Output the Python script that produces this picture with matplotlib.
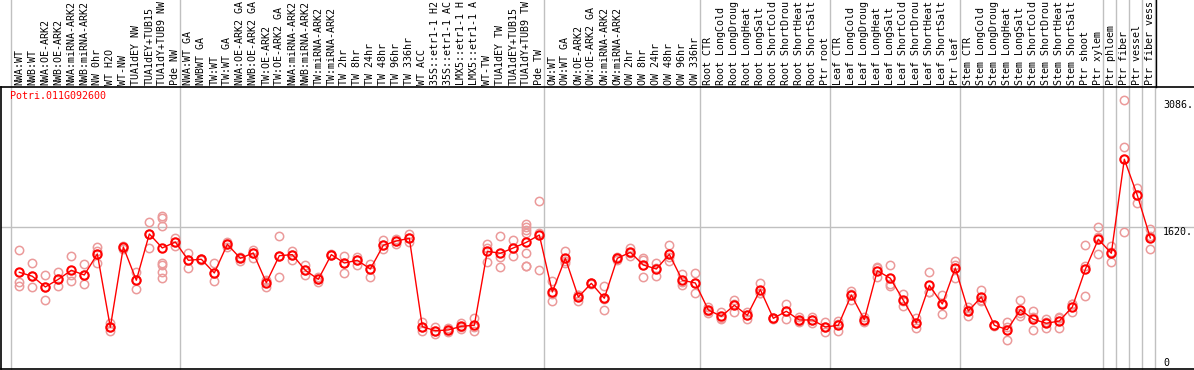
import matplotlib
matplotlib.use("Agg")
from matplotlib import pyplot as plt

plt.rcParams['font.family'] = ['DejaVu Sans Mono']

gene = "Potri.011G092600"

samples = ["NWA:WT", "NWB:WT", "NWA:OE-ARK2", "NWB:OE-ARK2", "NWA:miRNA-ARK2", "NWB:miRNA-ARK2",
           "NW 0hr", "WT H2O", "WT-NW", "TUA1dEY NW", "TUA1dEY+TUB15", "TUA1dY+TUB9 NW", "Pde NW",
           "NWA:WT GA", "NWBWT GA", "TW:WT", "TW:WT GA", "NWA:OE-ARK2 GA", "NWB:OE-ARK2 GA",
           "TW:OE-ARK2", "TW:OE-ARK2 GA", "NWA:miRNA-ARK2", "NWB:miRNA-ARK2", "TW:miRNA-ARK2",
           "TW:miRNA-ARK2", "TW 2hr", "TW 8hr", "TW 24hr", "TW 48hr", "TW 96hr", "TW 336hr",
           "WT ACC", "35S::etr1-1 H2", "35S::etr1-1 AC", "LMX5::etr1-1 H", "LMX5::etr1-1 A",
           "WT-TW", "TUA1dEY TW", "TUA1dEY+TUB15", "TUA1dY+TUB9 TW", "Pde TW",
           "OW:WT", "OW:WT GA", "OW:OE-ARK2", "OW:OE-ARK2 GA", "OW:miRNA-ARK2", "OW:miRNA-ARK2",
           "OW 2hr", "OW 8hr", "OW 24hr", "OW 48hr", "OW 96hr", "OW 336hr",
           "Root CTR", "Root LongCold", "Root LongDroug", "Root LongHeat", "Root LongSalt",
           "Root ShortCold", "Root ShortDrou", "Root ShortHeat", "Root ShortSalt", "Ptr root",
           "Leaf CTR", "Leaf LongCold", "Leaf LongDroug", "Leaf LongHeat", "Leaf LongSalt",
           "Leaf ShortCold", "Leaf ShortDrou", "Leaf ShortHeat", "Leaf ShortSalt", "Ptr leaf",
           "Stem CTR", "Stem LongCold", "Stem LongDroug", "Stem LongHeat", "Stem LongSalt",
           "Stem ShortCold", "Stem ShortDrou", "Stem ShortHeat", "Stem ShortSalt", "Ptr shoot",
           "Ptr xylem", "Ptr phloem", "Ptr fiber", "Ptr vessel", "Ptr fiber vess"]

group_sizes = [13, 28, 12, 10, 10, 11, 1, 1, 1, 1]

means = [1102, 1056, 933, 1021, 1125, 1071, 1313, 469, 1393, 1010, 1543, 1382, 1451,
         1240, 1252, 1094, 1424, 1263, 1324, 982, 1293, 1305, 1125, 1021, 1305, 1209, 1240,
         1140, 1413, 1462, 1493, 476, 429, 438, 480, 492, 1344, 1321, 1382, 1447, 1531,
         875, 1263, 817, 975, 803, 1263, 1332, 1186, 1140, 1309, 1010, 979,
         668, 595, 722, 607, 902, 572, 653, 553, 553, 472,
         492, 841, 556, 1120, 1033, 780, 518, 952, 737, 1151,
         656, 817, 492, 441, 671, 561, 515, 541, 702, 1136, 1482,
         1321, 2403, 1988, 1497]

replicates = [
    [1355, 987, 948], [1205, 929, 1056], [1067, 783, 933], [1105, 941, 1021],
    [1290, 998, 1071], [1194, 964, 1071], [1393, 1205, 1351], [515, 429, 469],
    [1393, 1370, 1408], [1109, 906, 1010], [1678, 1382, 1543],
    [1750, 1727, 1632, 1205, 1186, 1105, 1036], [1493, 1408, 1451],
    [1321, 1148, 1240], [1260, 1245, 1252], [1205, 998, 1094], [1447, 1397, 1424],
    [1282, 1235, 1263], [1359, 1270, 1324], [936, 1010, 1000], [1520, 1048, 1293],
    [1344, 1244, 1305], [1189, 1067, 1125], [990, 1021, 1050], [1305, 1300, 1310],
    [1293, 1094, 1209], [1275, 1189, 1240], [1201, 1044, 1140], [1474, 1374, 1413],
    [1489, 1428, 1462], [1543, 1447, 1493], [533, 429, 476], [476, 388, 429],
    [457, 411, 438], [522, 449, 470], [572, 429, 477], [1428, 1217, 1387],
    [1520, 1163, 1280], [1470, 1293, 1383],
    [1655, 1620, 1589, 1558, 1321, 1171, 1171], [1919, 1125, 1549],
    [998, 771, 856], [1347, 1205, 1237], [775, 841, 835], [975, 970, 980],
    [941, 668, 800], [1244, 1270, 1275], [1378, 1293, 1325], [1270, 1048, 1240],
    [1212, 1059, 1149], [1416, 1235, 1276], [1086, 956, 988], [1094, 864, 979],
    [706, 637, 661], [648, 561, 576], [786, 648, 732], [568, 607, 646],
    [979, 864, 863], [572, 565, 580], [737, 568, 654], [587, 526, 546],
    [591, 515, 553], [526, 418, 472], [545, 429, 502], [890, 783, 850],
    [591, 526, 551], [1159, 1051, 1150], [1186, 944, 969], [852, 714, 774],
    [464, 520, 570], [1105, 872, 879], [841, 618, 752], [1232, 1033, 1188],
    [706, 599, 663], [895, 780, 776], [492, 485, 500], [530, 322, 471],
    [783, 602, 628], [653, 438, 592], [564, 457, 524], [584, 464, 575],
    [733, 641, 732], [1416, 1178, 829], [1623, 1512, 1309], [1405, 1224, 1334],
    [3086, 2541, 1562], [2073, 1903, 1988], [1600, 1367, 1524]]

y_ticks = [0, 1620, 3086]

fig = plt.figure(figsize=(11.94, 3.70), dpi=100)
ax = fig.add_axes([1 / 1194, 1 / 370, 1193 / 1194, 282 / 370])

n = len(samples)
x = list(range(n))
ax.set_xlim(-1.41, 90.36)
ax.set_ylim(-11.5, 3235)

# group separators, carried up through the label strip
starts = [0]
for s in group_sizes:
    starts.append(starts[-1] + s)
for st in starts:
    ax.axvline(st - 0.64, 0, 1.31, color='#c0c0c0', lw=1.0, clip_on=False, zorder=0)
ax.axvline(n - 0.56, 1.0, 1.31, color='black', lw=1.0, clip_on=False)
ax.axhline(1620, color='#c0c0c0', lw=1.0, zorder=0)

for i, reps in enumerate(replicates):
    ax.plot([i] * len(reps), reps, 'o', ms=6, mfc='none', mec='#eb9a9a', mew=1.1, zorder=2)
ax.plot(x, means, '-', color='red', lw=1.0, zorder=3)
ax.plot(x, means, 'o', ms=6, mfc='none', mec='red', mew=1.5, zorder=4)

for i, lab in enumerate(samples):
    ax.annotate(lab, xy=(i, 1), xycoords=('data', 'axes fraction'), xytext=(0, 2),
                textcoords='offset pixels', rotation=90, ha='center', va='bottom',
                fontsize=7.2, color='black', annotation_clip=False)

ax.text(9 / 1193, 1 - 4 / 282, gene, transform=ax.transAxes, color='red',
        fontsize=7.2, ha='left', va='top')

for v in y_ticks:
    lab = "0" if v == 0 else "%d." % v
    ax.text(1162 / 1193, v, lab, transform=ax.get_yaxis_transform(), fontsize=7.2,
            ha='left', va='bottom' if v == 0 else 'top', color='black')

for side in ['right']:
    ax.spines[side].set_visible(False)
for side in ['left', 'bottom', 'top']:
    ax.spines[side].set_color('black')
    ax.spines[side].set_linewidth(1.2)
ax.set_xticks([])
ax.set_yticks([])

plt.savefig('out.png', dpi=100)
